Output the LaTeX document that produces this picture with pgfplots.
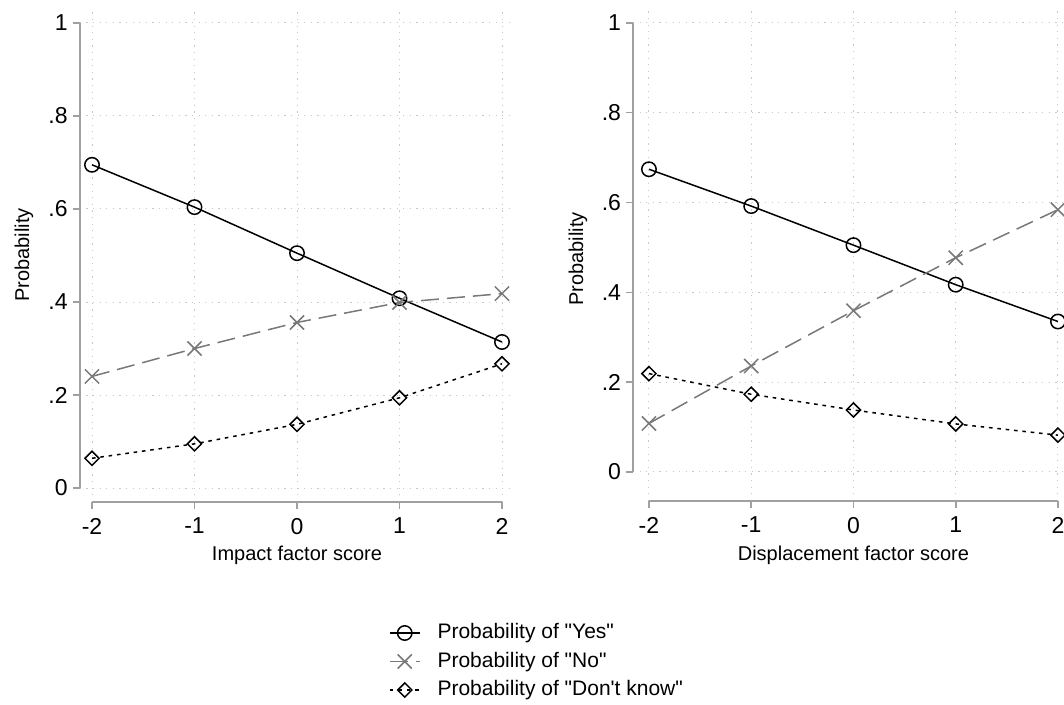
\documentclass[border=0pt]{standalone}
\usepackage{fontspec}
\setmainfont{Liberation Sans}[Ligatures=TeXOff]
\usepackage{pgfplots}
\pgfplotsset{compat=1.18}
\definecolor{nogray}{RGB}{120,120,120}
\definecolor{axgray}{RGB}{160,160,160}
\definecolor{gridgray}{RGB}{200,200,200}
\pgfplotsset{
  stataax/.style={
    scale only axis,
    height=246.5pt,
    axis x line*=bottom, axis y line*=left,
    axis line style={draw=none},
    tick align=outside,
    major tick length=3.5pt,
    tick style={axgray, line width=0.8pt},
    xtick={-2,-1,0,1,2},
    xticklabels={-2,-1,0,1,2},
    ytick={0,0.2,0.4,0.6,0.8,1},
    yticklabels={0,.2,.4,.6,.8,1},
    tick label style={font=\fontsize{11.5}{13}\selectfont},
    xticklabel style={yshift=-1pt},
    yticklabel style={xshift=1pt},
    grid=major,
    grid style={gridgray, line width=0.5pt, dash pattern=on 0.6pt off 2.7pt},
    clip=false,
    xlabel style={font=\fontsize{10}{12}\selectfont},
    ylabel style={font=\fontsize{11.8}{13}\selectfont},
    legend image code/.code={\draw[mark repeat=2,mark phase=2,##1] plot coordinates {(0pt,0pt) (7.5pt,0pt) (15pt,0pt)};},
  },
  yes/.style={black, line width=0.75pt, solid, mark=o, mark size=3.6pt, mark options={solid, line width=0.75pt}},
  no/.style={nogray, line width=0.75pt, dash pattern=on 9pt off 4pt, mark=x, mark size=5pt, mark options={solid, line width=0.75pt}},
  dk/.style={black, line width=0.75pt, dash pattern=on 1.8pt off 2.4pt, mark=square, mark size=2.5pt, mark options={solid, rotate=45, line width=0.75pt}},
}
\begin{document}
\begin{tikzpicture}
% Left panel
\begin{axis}[stataax,
  at={(39.85pt,101.5pt)}, anchor=south west,
  width=217.3pt,
  xmin=-2.12, xmax=2.12, ymin=-0.03, ymax=1.03,
  xlabel={Impact factor score},
  ylabel={Probability},
  every axis x label/.style={at={(axis description cs:0.5,-0.1075)}, anchor=center},
  every axis y label/.style={at={(axis description cs:-0.1282,0.501)}, rotate=90, anchor=center},
  legend style={at={(axis description cs:0.7117,-0.2424)}, anchor=north west,
    draw=none, fill=none, inner sep=0pt, outer sep=0pt,
    row sep=2.75pt, column sep=8pt,
    font=\fontsize{10.5}{12}\selectfont,
    nodes={inner sep=0.5pt, text height=8pt, text depth=2.5pt},
    cells={anchor=west}},
]
\draw[axgray, line width=0.8pt] (axis cs:-2.12,0) -- (axis cs:-2.12,1);
\draw[axgray, line width=0.8pt] (axis cs:-2,-0.03) -- (axis cs:2,-0.03);
\addplot[yes] coordinates {(-2,0.695) (-1,0.604) (0,0.505) (1,0.408) (2,0.314)};
\addlegendentry{Probability of \symbol{34}Yes\symbol{34}}
\addplot[no] coordinates {(-2,0.240) (-1,0.300) (0,0.356) (1,0.399) (2,0.418)};
\addlegendentry{Probability of \symbol{34}No\symbol{34}}
\addplot[dk] coordinates {(-2,0.064) (-1,0.095) (0,0.137) (1,0.194) (2,0.267)};
\addlegendentry{Probability of \symbol{34}Don\symbol{39}t know\symbol{34}}
\end{axis}
% Right panel
\begin{axis}[stataax,
  at={(316.5pt,102pt)}, anchor=south west,
  width=220.45pt,
  xmin=-2.156, xmax=2.156, ymin=-0.0646, ymax=1.033,
  xlabel={Displacement factor score},
  ylabel={Probability},
  every axis x label/.style={at={(axis description cs:0.5,-0.1095)}, anchor=center},
  every axis y label/.style={at={(axis description cs:-0.1247,0.491)}, rotate=90, anchor=center},
]
\draw[axgray, line width=0.8pt] (axis cs:-2.156,0) -- (axis cs:-2.156,1);
\draw[axgray, line width=0.8pt] (axis cs:-2,-0.0646) -- (axis cs:2,-0.0646);
\addplot[yes] coordinates {(-2,0.674) (-1,0.592) (0,0.505) (1,0.417) (2,0.335)};
\addplot[no] coordinates {(-2,0.108) (-1,0.236) (0,0.359) (1,0.477) (2,0.584)};
\addplot[dk] coordinates {(-2,0.219) (-1,0.173) (0,0.138) (1,0.107) (2,0.082)};
\end{axis}
\pgfresetboundingbox
\path[use as bounding box] (0pt,0pt) rectangle (532pt,352.5pt);
\end{tikzpicture}
\end{document}
